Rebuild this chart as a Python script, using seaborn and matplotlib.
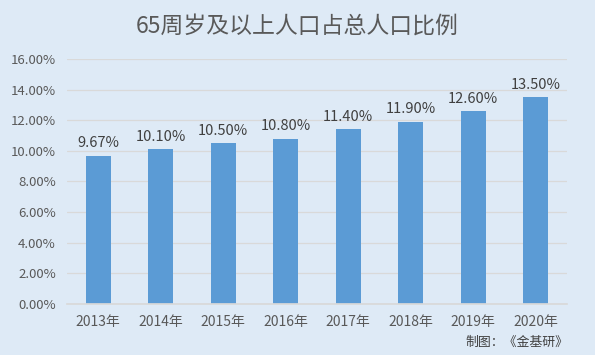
import matplotlib
matplotlib.use("Agg")
import matplotlib.pyplot as plt
import seaborn as sns
import pandas as pd

years = ["2013年", "2014年", "2015年", "2016年", "2017年", "2018年", "2019年", "2020年"]
ratios = [9.67, 10.10, 10.50, 10.80, 11.40, 11.90, 12.60, 13.50]
labels = ["9.67%", "10.10%", "10.50%", "10.80%", "11.40%", "11.90%", "12.60%", "13.50%"]

sns.set_theme(style="white")
plt.rcParams['font.family'] = ['Noto Sans CJK SC', 'DejaVu Sans']

bg = "#DEEAF6"
txt = "#595959"
df = pd.DataFrame({"year": years, "ratio": ratios})

fig = plt.figure(figsize=(5.95, 3.55), dpi=100, facecolor=bg)
ax = fig.add_axes([0.1126, 0.1437, 0.8404, 0.6901])
ax.set_facecolor(bg)
sns.barplot(data=df, x="year", y="ratio", color="#5B9BD5", width=0.4, saturation=1,
            edgecolor="none", linewidth=0, ax=ax)
ax.set_ylim(0, 16)
ax.set_yticks([0, 2, 4, 6, 8, 10, 12, 14, 16])
ax.set_yticklabels([f"{v:.2f}%" for v in range(0, 17, 2)], color=txt, fontsize=9.5)
ax.set_xticklabels(years, color=txt, fontsize=10)
ax.set_xlabel("")
ax.set_ylabel("")
ax.grid(axis="y", color="#D9D9D9", linewidth=0.9)
ax.set_axisbelow(True)
for s in ["top", "right", "left"]:
    ax.spines[s].set_visible(False)
ax.spines["bottom"].set_color("#D9D9D9")
ax.tick_params(axis="both", length=0, pad=8)
for c in ax.containers:
    ax.bar_label(c, labels=labels, padding=4, color="#404040", fontsize=10.5)
fig.text(0.5, 0.925, "65周岁及以上人口占总人口比例", ha="center", va="center", fontsize=16.5, color=txt)
fig.text(0.955, 0.035, "制图：《金基研》", ha="right", va="center", fontsize=9.3, color="#404040")
fig.savefig("out.png", dpi=100, facecolor=bg)
